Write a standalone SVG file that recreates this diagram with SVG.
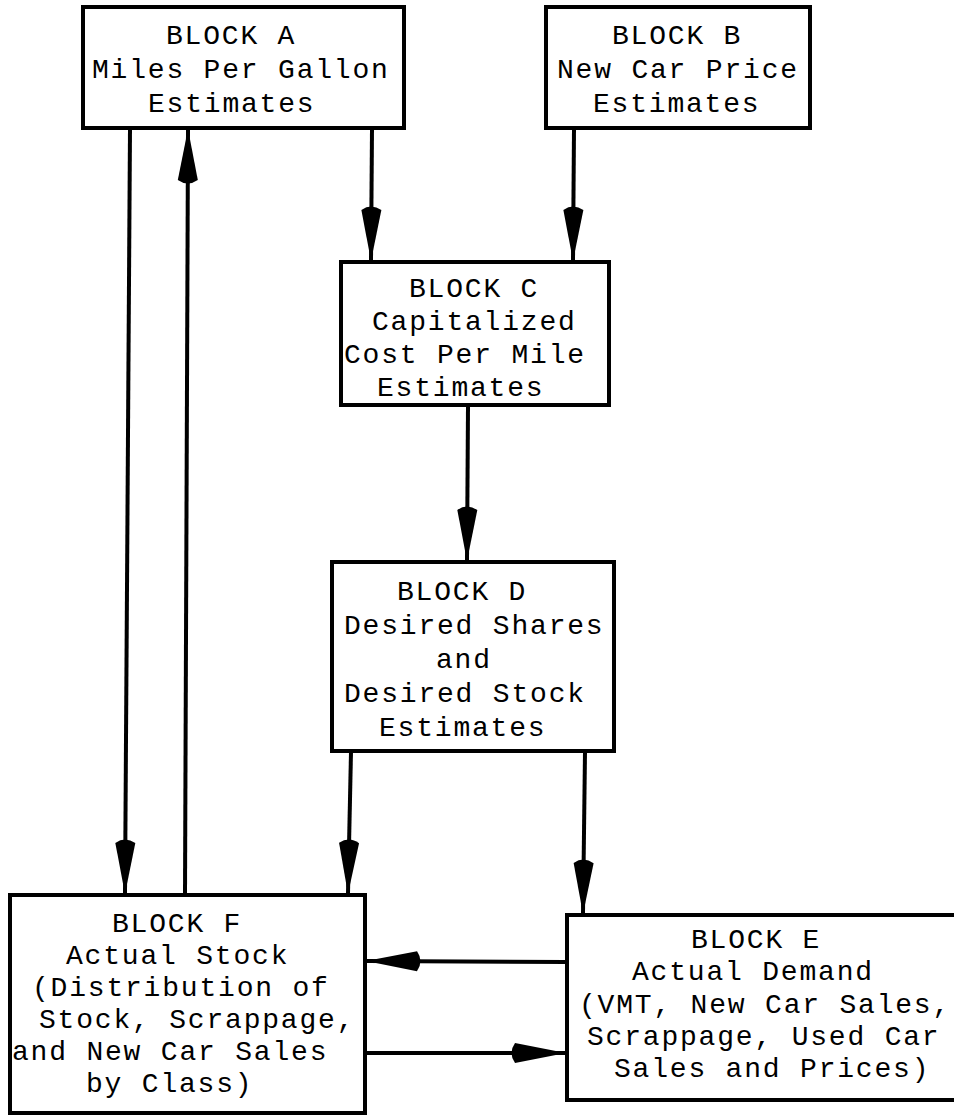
<svg xmlns="http://www.w3.org/2000/svg" width="954" height="1115" viewBox="0 0 954 1115">
<style>
.box{fill:#fff;stroke:#000;stroke-width:4}
.t{font-family:"Liberation Mono","Courier New",monospace;font-size:28px;letter-spacing:1.8px;fill:#000}
.c{stroke:#000;stroke-width:4;fill:none}
</style>
<defs>
<marker id="ah" viewBox="-58 -12 60 24" refX="0" refY="0" markerWidth="60" markerHeight="24" markerUnits="userSpaceOnUse" orient="auto">
<path d="M1,0 L-50,-10 Q-57,0 -50,10 Z" fill="#000"/>
</marker>
</defs>
<g id="connectors">
<line class="c" x1="130" y1="129" x2="125" y2="893" marker-end="url(#ah)"/>
<line class="c" x1="185" y1="893" x2="188" y2="130" marker-end="url(#ah)"/>
<line class="c" x1="372" y1="129" x2="371" y2="260" marker-end="url(#ah)"/>
<line class="c" x1="574" y1="129" x2="573" y2="260" marker-end="url(#ah)"/>
<line class="c" x1="468" y1="407" x2="467" y2="560" marker-end="url(#ah)"/>
<line class="c" x1="351" y1="752" x2="348" y2="893" marker-end="url(#ah)"/>
<line class="c" x1="585" y1="752" x2="583" y2="913" marker-end="url(#ah)"/>
<line class="c" x1="565" y1="962" x2="367" y2="961" marker-end="url(#ah)"/>
<line class="c" x1="367" y1="1053" x2="565" y2="1053" marker-end="url(#ah)"/>
</g>
<g id="blockA">
<rect class="box" x="83" y="7" width="321" height="121"/>
<text class="t" x="166" y="44">BLOCK A</text>
<text class="t" x="92" y="78">Miles Per Gallon</text>
<text class="t" x="148" y="112">Estimates</text>
</g>
<g id="blockB">
<rect class="box" x="546" y="7" width="264" height="121"/>
<text class="t" x="612" y="44">BLOCK B</text>
<text class="t" x="557" y="78">New Car Price</text>
<text class="t" x="593" y="112">Estimates</text>
</g>
<g id="blockC">
<rect class="box" x="341" y="262" width="268" height="143"/>
<text class="t" x="409" y="297">BLOCK C</text>
<text class="t" x="372" y="330">Capitalized</text>
<text class="t" x="344" y="363">Cost Per Mile</text>
<text class="t" x="377" y="396">Estimates</text>
</g>
<g id="blockD">
<rect class="box" x="332" y="562" width="282" height="189"/>
<text class="t" x="397" y="600">BLOCK D</text>
<text class="t" x="344" y="634">Desired Shares</text>
<text class="t" x="436" y="668">and</text>
<text class="t" x="344" y="702">Desired Stock</text>
<text class="t" x="379" y="736">Estimates</text>
</g>
<g id="blockF">
<rect class="box" x="10" y="895" width="355" height="218"/>
<text class="t" x="112" y="932">BLOCK F</text>
<text class="t" x="66" y="964">Actual Stock</text>
<text class="t" x="32" y="996">(Distribution of</text>
<text class="t" x="39" y="1028">Stock, Scrappage,</text>
<text class="t" x="12" y="1060">and New Car Sales</text>
<text class="t" x="86" y="1092">by Class)</text>
</g>
<g id="blockE">
<rect class="box" x="567" y="915" width="400" height="185"/>
<text class="t" x="691" y="948">BLOCK E</text>
<text class="t" x="632" y="980">Actual Demand</text>
<text class="t" x="579" y="1013">(VMT, New Car Sales,</text>
<text class="t" x="587" y="1045">Scrappage, Used Car</text>
<text class="t" x="614" y="1077">Sales and Prices)</text>
</g>
</svg>
